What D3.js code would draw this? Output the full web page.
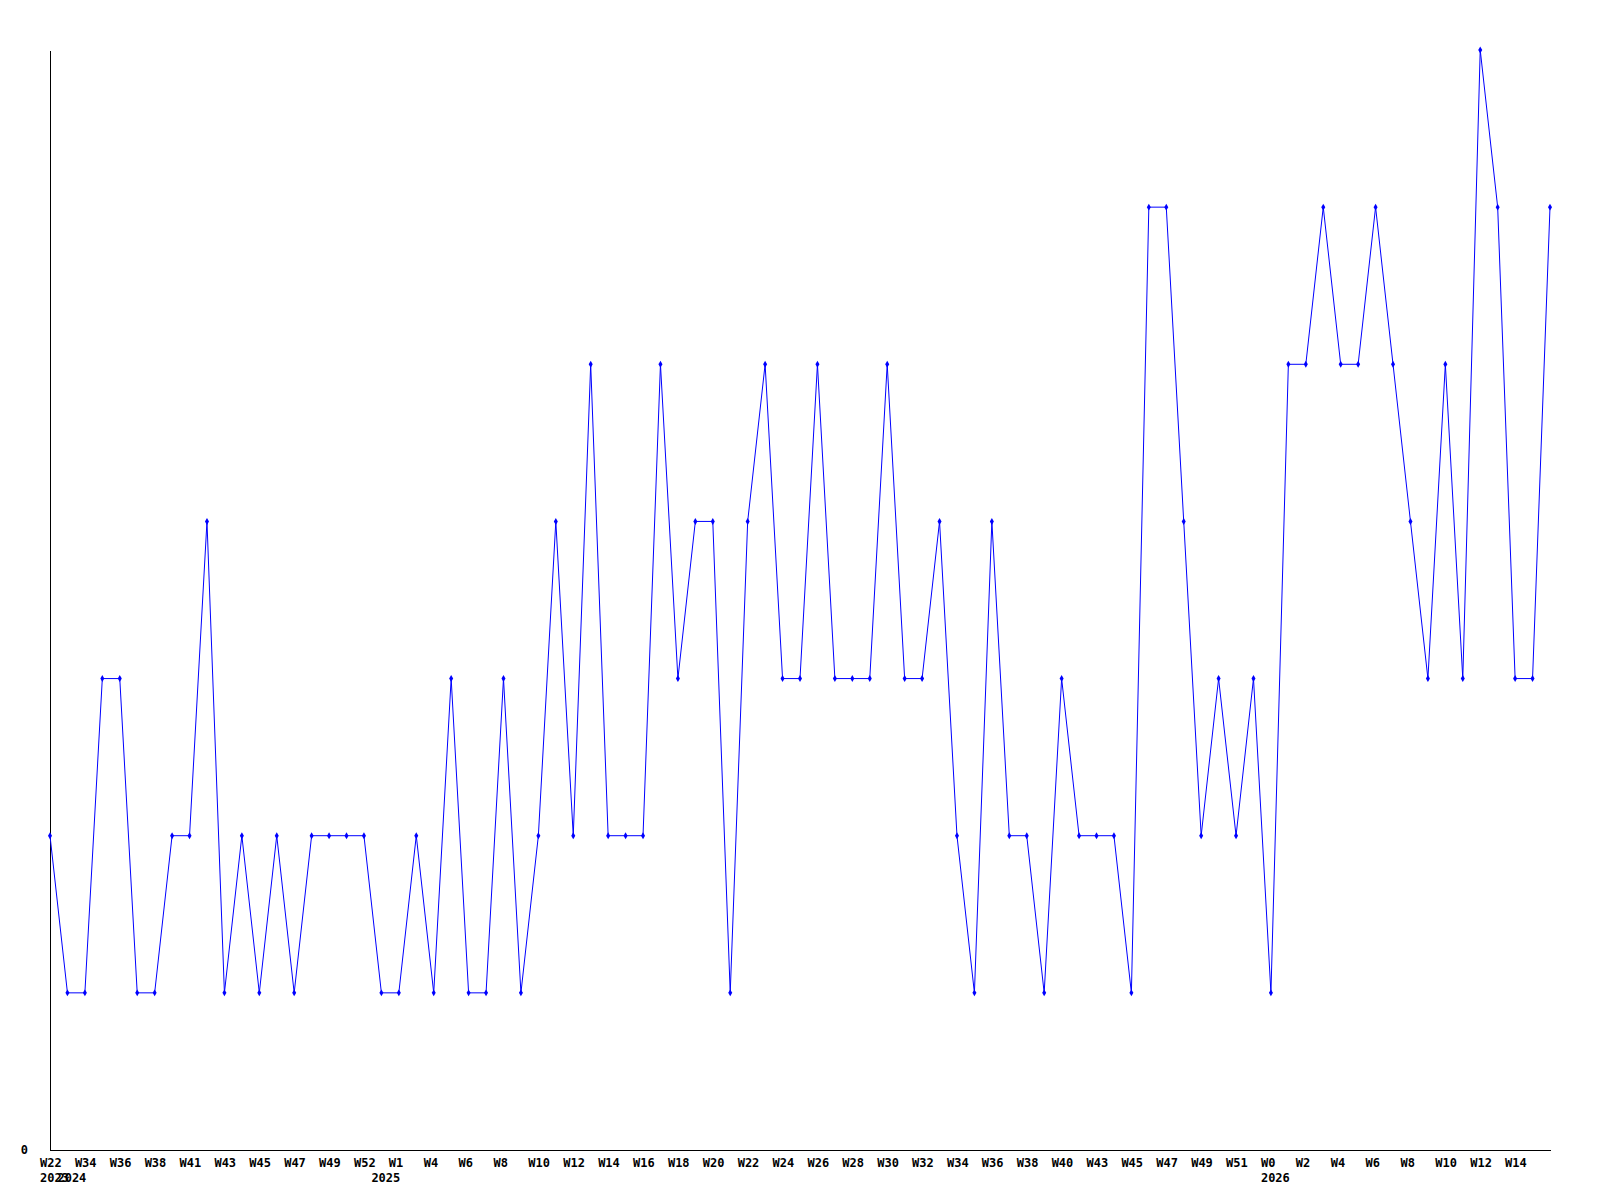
<!DOCTYPE html>
<html lang="en">
<head>
<meta charset="utf-8">
<title>Weekly line</title>
<script src="https://cdn.jsdelivr.net/npm/d3@7"></script>
<style>
  body { margin: 0; background: #fff; }
  .lbl { font-family: "DejaVu Sans Mono", monospace; font-weight: bold; font-size: 12px; fill: #000; }
  .axis path { stroke: #000; stroke-width: 1; fill: none; shape-rendering: crispEdges; }
  .series { stroke: #0000ff; stroke-width: 1; fill: none; }
</style>
</head>
<body>
<script>
// week label of every point
var weeks = ["W22","W33","W34","W35","W36","W37","W38","W39","W41","W42",
  "W43","W44","W45","W46","W47","W48","W49","W50","W52","W0",
  "W1","W3","W4","W5","W6","W7","W8","W9","W10","W11",
  "W12","W13","W14","W15","W16","W17","W18","W19","W20","W21",
  "W22","W23","W24","W25","W26","W27","W28","W29","W30","W31",
  "W32","W33","W34","W35","W36","W37","W38","W39","W40","W42",
  "W43","W44","W45","W46","W47","W48","W49","W50","W51","W52",
  "W0","W1","W2","W3","W4","W5","W6","W7","W8","W9",
  "W10","W11","W12","W13","W14","W15","W16"];

var values = [2,1,1,3,3,1,1,2,2,4,
  1,2,1,2,1,2,2,2,2,1,
  1,2,1,3,1,1,3,1,2,4,
  2,5,2,2,2,5,3,4,4,1,
  4,5,3,3,5,3,3,3,5,3,
  3,4,2,1,4,2,2,1,3,2,
  2,2,1,6,6,4,2,3,2,3,
  1,5,5,6,5,5,6,5,4,3,
  5,3,7,6,3,3,6];

// first point of each year
var yearStart = [0, 1, 19, 70];
var yearNames = ["2023", "2024", "2025", "2026"];

var w = 1600, h = 1200;
var padL = 50, padR = 1550, padT = 50, padB = 1150;

var svg = d3.select("body").append("svg")
  .attr("width", w).attr("height", h);

var xScale = d3.scalePoint()
  .domain(d3.range(values.length))
  .range([padL, padR]);

var yScale = d3.scaleLinear()
  .domain([0, 7])
  .range([padB, padT]);

// y axis
var yAxis = svg.append("g")
  .attr("class", "axis")
  .attr("transform", "translate(" + padL + ",0)")
  .call(d3.axisLeft(yScale).tickValues([0]).tickSize(0).tickSizeOuter(0).tickPadding(22).tickFormat(d3.format("d")));
yAxis.selectAll("text").attr("class", "lbl").attr("font-size", null).attr("font-family", null);
yAxis.selectAll("line").remove();

// x axis
svg.append("g")
  .attr("class", "axis")
  .attr("transform", "translate(0," + padB + ")")
  .call(d3.axisBottom(xScale).tickValues([]).tickSizeOuter(0));

// week labels, every second point
svg.append("g").selectAll("text")
  .data(d3.range(0, values.length - 1, 2))
  .enter().append("text")
  .attr("class", "lbl")
  .attr("x", function(i) { return xScale(i) - 10; })
  .attr("y", padB + 17)
  .text(function(i) { return weeks[i]; });

// year labels
svg.append("g").selectAll("text")
  .data(yearStart)
  .enter().append("text")
  .attr("class", "lbl")
  .attr("x", function(i) { return xScale(i) - 10; })
  .attr("y", padB + 32)
  .text(function(d, k) { return yearNames[k]; });

var line = d3.line()
  .x(function(d, i) { return xScale(i); })
  .y(function(d) { return yScale(d); });

svg.append("path")
  .datum(values)
  .attr("class", "series")
  .attr("d", line);

svg.append("g").selectAll("path")
  .data(values)
  .enter().append("path")
  .attr("d", d3.symbol().type(d3.symbolDiamond).size(14))
  .attr("transform", function(d, i) { return "translate(" + xScale(i) + "," + yScale(d) + ")"; })
  .attr("fill", "#0000ff");
</script>
</body>
</html>
